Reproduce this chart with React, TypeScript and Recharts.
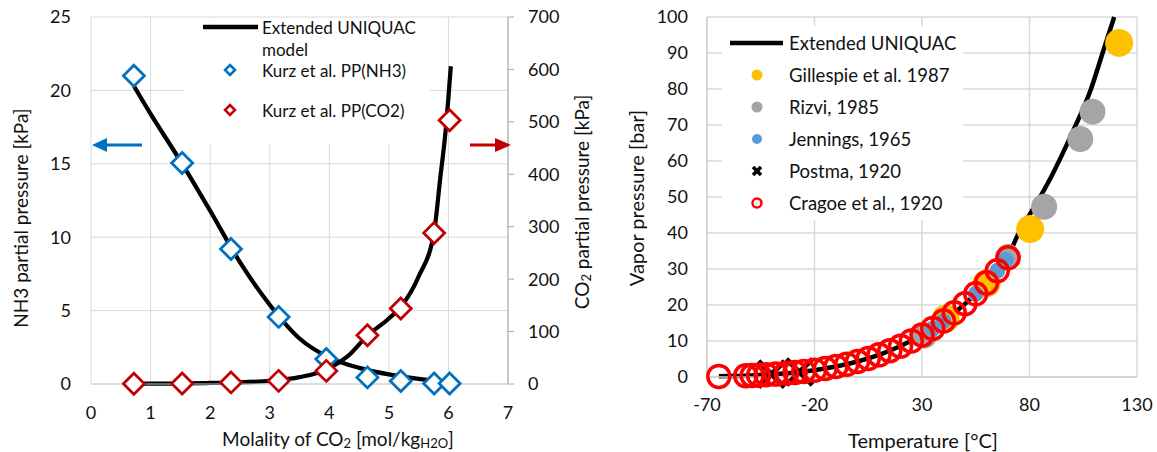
import React from 'react';
import { ComposedChart, Line, Scatter, XAxis, YAxis, CartesianGrid } from 'recharts';

// ---- left chart: partial pressures vs CO2 molality ----
const molalityTicks = [0, 1, 2, 3, 4, 5, 6, 7];
const nh3Ticks = [0, 5, 10, 15, 20, 25];
const co2Ticks = [0, 100, 200, 300, 400, 500, 600, 700];

const kurzMolality = [0.72, 1.53, 2.35, 3.15, 3.95, 4.64, 5.2, 5.76, 6.02];
const kurzNH3 = [21.0, 15.05, 9.2, 4.57, 1.7, 0.45, 0.2, 0.03, 0.03];
const kurzCO2 = [0.5, 1, 3, 6, 25, 93, 144, 288, 503];

const modelNH3Molality = [0.72, 1.0, 1.5, 2.0, 2.5, 3.0, 3.5, 4.0, 4.5, 5.0, 5.5, 6.05];
const modelNH3 = [20.3, 18.4, 15.2, 11.8, 8.3, 5.4, 3.1, 1.8, 1.1, 0.65, 0.35, 0.12];
const modelCO2Molality = [0.72, 1.5, 2.0, 2.5, 3.0, 3.5, 4.0, 4.3, 4.64, 5.0, 5.2, 5.5, 5.76, 5.86, 5.95, 6.04];
const modelCO2 = [0.5, 1, 2, 3, 6, 13, 30, 52, 92, 125, 147, 205, 290, 390, 480, 606];

// ---- right chart: NH3 vapor pressure ----
const tempTicks = [-70, -20, 30, 80, 130];
const vaporTicks = [0, 10, 20, 30, 40, 50, 60, 70, 80, 90, 100];

const modelT = [-64.5, -60, -50, -40, -30, -20, -10, 0, 10, 20, 30, 40, 50, 60, 70, 75, 80, 90, 100, 108.6, 114, 119.4];
const modelP = [0.2, 0.25, 0.45, 0.75, 1.2, 1.9, 2.9, 4.3, 6.15, 8.6, 11.7, 15.5, 20.3, 26.2, 33.5, 40, 45, 55.5, 68, 80, 90, 100];

const gillespieT = [41, 60, 80.3, 121.7];
const gillespieP = [16.2, 26, 41.1, 92.8];
const rizviT = [31, 70, 86.8, 103.6, 109.3];
const rizviP = [11.5, 33.3, 47.3, 66.1, 73.7];
const jenningsT = [35, 40, 55, 65, 69];
const jenningsP = [13.4, 15.5, 23.1, 29.5, 32.5];
const postmaT = [-40, -27];
const postmaP = [0.8, 1.4];
const cragoeT = [-64.5, -52, -49, -46, -42.5, -38, -33, -29, -25, -20, -15, -10, -5, 0, 5, 10, 15, 20, 25, 30, 35, 40, 45, 50, 55, 60, 65, 70];
const cragoeP = [0.17, 0.37, 0.43, 0.51, 0.63, 0.8, 1.04, 1.27, 1.52, 1.9, 2.36, 2.91, 3.55, 4.29, 5.16, 6.15, 7.28, 8.57, 10.03, 11.67, 13.5, 15.55, 17.82, 20.33, 23.1, 26.15, 29.5, 33.1];

const toPoints = (xs: number[], ys: number[]) => xs.map((x, i) => ({ x, y: ys[i] }));

const FONT = 'Lato, "Open Sans", sans-serif';
const tickStyle = { fontSize: 18, fill: '#111', fontFamily: FONT };

const Diamond = ({ cx, cy, color, r = 10.5, w = 2.75 }: any) => (
  <polygon
    points={`${cx},${cy - r} ${cx + r},${cy} ${cx},${cy + r} ${cx - r},${cy}`}
    fill="#fff"
    stroke={color}
    strokeWidth={w}
  />
);

const Dot = ({ cx, cy, r, fill, stroke, w }: any) => (
  <circle cx={cx} cy={cy} r={r} fill={fill || 'none'} stroke={stroke || 'none'} strokeWidth={w || 0} />
);

const Cross = ({ cx, cy, s = 10, w = 5 }: any) => (
  <g stroke="#000" strokeWidth={w}>
    <line x1={cx - s} y1={cy - s} x2={cx + s} y2={cy + s} />
    <line x1={cx - s} y1={cy + s} x2={cx + s} y2={cy - s} />
  </g>
);

function LeftChart() {
  return (
    <ComposedChart width={580} height={452} margin={{ top: 17, right: 0, bottom: 0, left: 0 }}>
      <CartesianGrid yAxisId="nh3" stroke="#d9d9d9" />
      <XAxis
        type="number"
        dataKey="x"
        domain={[0, 7]}
        ticks={molalityTicks}
        height={68}
        tickLine={false}
        tickSize={6}
        tickMargin={16}
        axisLine={{ stroke: '#d0d0d0' }}
        tick={tickStyle}
      />
      <YAxis
        yAxisId="nh3"
        type="number"
        dataKey="y"
        domain={[0, 25]}
        ticks={nh3Ticks}
        width={91}
        axisLine={false}
        tickLine={false}
        tickSize={6}
        tickMargin={14}
        tick={tickStyle}
      />
      <YAxis
        yAxisId="co2"
        orientation="right"
        type="number"
        dataKey="y"
        domain={[0, 700]}
        ticks={co2Ticks}
        width={72}
        axisLine={{ stroke: '#a6a6a6' }}
        tickLine={{ stroke: '#a6a6a6' }}
        tickSize={6}
        tickMargin={14}
        tick={tickStyle}
      />
      <Line yAxisId="nh3" data={toPoints(modelNH3Molality, modelNH3)} dataKey="y" type="monotone"
        stroke="#000" strokeWidth={4.25} dot={false} isAnimationActive={false} />
      <Line yAxisId="co2" data={toPoints(modelCO2Molality, modelCO2)} dataKey="y" type="monotone"
        stroke="#000" strokeWidth={4.25} dot={false} isAnimationActive={false} />
      <Scatter yAxisId="nh3" data={toPoints(kurzMolality, kurzNH3)} isAnimationActive={false}
        shape={(p: any) => <Diamond cx={p.cx} cy={p.cy} color="#0070c0" />} />
      <Scatter yAxisId="co2" data={toPoints(kurzMolality, kurzCO2)} isAnimationActive={false}
        shape={(p: any) => <Diamond cx={p.cx} cy={p.cy} color="#c00000" />} />
    </ComposedChart>
  );
}

function RightChart() {
  return (
    <ComposedChart width={577} height={452} margin={{ top: 17, right: 20, bottom: 0, left: 0 }}>
      <CartesianGrid stroke="#d9d9d9" strokeWidth={1.5} />
      <XAxis
        type="number"
        dataKey="x"
        domain={[-70, 130]}
        ticks={tempTicks}
        height={75}
        tickLine={false}
        tickSize={6}
        tickMargin={15}
        axisLine={{ stroke: '#d0d0d0', strokeWidth: 1.5 }}
        tick={tickStyle}
      />
      <YAxis
        type="number"
        dataKey="y"
        domain={[0, 100]}
        ticks={vaporTicks}
        width={127}
        axisLine={{ stroke: '#d0d0d0', strokeWidth: 1.5 }}
        tickLine={false}
        tickSize={6}
        tickMargin={13}
        tick={tickStyle}
      />
      <Line data={toPoints(modelT, modelP)} dataKey="y" type="monotone"
        stroke="#000" strokeWidth={4.5} dot={false} isAnimationActive={false} />
      <Scatter data={toPoints(gillespieT, gillespieP)} isAnimationActive={false}
        shape={(p: any) => <Dot cx={p.cx} cy={p.cy} r={14} fill="#ffc000" />} />
      <Scatter data={toPoints(rizviT, rizviP)} isAnimationActive={false}
        shape={(p: any) => <Dot cx={p.cx} cy={p.cy} r={13} fill="#a5a5a5" />} />
      <Scatter data={toPoints(jenningsT, jenningsP)} isAnimationActive={false}
        shape={(p: any) => <Dot cx={p.cx} cy={p.cy} r={8} fill="#5b9bd5" />} />
      <Scatter data={toPoints(postmaT, postmaP)} isAnimationActive={false}
        shape={(p: any) => <Cross cx={p.cx} cy={p.cy} s={13} w={5} />} />
      <Scatter data={toPoints(cragoeT, cragoeP)} isAnimationActive={false}
        shape={(p: any) => <Dot cx={p.cx} cy={p.cy} r={11} stroke="#ff0000" w={3.5} />} />
    </ComposedChart>
  );
}

// titles, legends and the axis arrows
function Overlay() {
  return (
    <svg width={1157} height={452} style={{ position: 'absolute', left: 0, top: 0, pointerEvents: 'none' }}
      fontFamily={FONT} fill="#111">
      {/* left legend */}
      <rect x={184} y={18} width={246} height={126} fill="#fff" />
      <line x1={203} y1={27} x2={258} y2={27} stroke="#000" strokeWidth={4.5} />
      <text x={262} y={27} fontSize={17} dominantBaseline="central">Extended UNIQUAC</text>
      <text x={262} y={49} fontSize={17} dominantBaseline="central">model</text>
      <Diamond cx={230} cy={70} r={5} w={2.5} color="#0070c0" />
      <text x={262} y={70} fontSize={17} dominantBaseline="central">Kurz et al. PP(NH3)</text>
      <Diamond cx={230} cy={110} r={5} w={2.5} color="#c00000" />
      <text x={262} y={110} fontSize={17} dominantBaseline="central">Kurz et al. PP(CO2)</text>

      {/* arrows pointing to the axes */}
      <line x1={142} y1={145} x2={104} y2={145} stroke="#0070c0" strokeWidth={3} />
      <polygon points="92,145 107,138 107,152" fill="#0070c0" />
      <line x1={470} y1={145} x2={497} y2={145} stroke="#c00000" strokeWidth={3} />
      <polygon points="511,145 495,138 495,152" fill="#c00000" />

      {/* left chart titles */}
      <text transform="translate(20,218) rotate(-90)" fontSize={19} textAnchor="middle" dominantBaseline="central">
        NH3 partial pressure [kPa]
      </text>
      <text transform="translate(581,202) rotate(-90)" fontSize={19} textAnchor="middle" dominantBaseline="central">
        CO<tspan fontSize={13} dy={5}>2</tspan><tspan dy={-5}> partial pressure [kPa]</tspan>
      </text>
      <text x={338} y={438} fontSize={19} textAnchor="middle" dominantBaseline="central">
        Molality of CO<tspan fontSize={13} dy={5}>2</tspan><tspan dy={-5}> [mol/kg</tspan>
        <tspan fontSize={13} dy={5}>H2O</tspan><tspan dy={-5}>]</tspan>
      </text>

      {/* right legend */}
      <rect x={722} y={26} width={241} height={194} fill="#fff" />
      <line x1={730} y1={43} x2={783} y2={43} stroke="#000" strokeWidth={4.5} />
      <text x={789} y={43} fontSize={18.5} dominantBaseline="central">Extended UNIQUAC</text>
      <circle cx={757} cy={75} r={5.5} fill="#ffc000" />
      <text x={789} y={75} fontSize={18.5} dominantBaseline="central">Gillespie et al. 1987</text>
      <circle cx={757} cy={107} r={5.5} fill="#a5a5a5" />
      <text x={789} y={107} fontSize={18.5} dominantBaseline="central">Rizvi, 1985</text>
      <circle cx={757} cy={139} r={5} fill="#5b9bd5" />
      <text x={789} y={139} fontSize={18.5} dominantBaseline="central">Jennings, 1965</text>
      <Cross cx={757} cy={171} s={4} w={3.5} />
      <text x={789} y={171} fontSize={18.5} dominantBaseline="central">Postma, 1920</text>
      <circle cx={757} cy={203} r={4.5} fill="#fff" stroke="#ff0000" strokeWidth={2.5} />
      <text x={789} y={203} fontSize={18.5} dominantBaseline="central">Cragoe et al., 1920</text>

      {/* right chart titles */}
      <text transform="translate(636,198) rotate(-90)" fontSize={20} textAnchor="middle" dominantBaseline="central">
        Vapor pressure [bar]
      </text>
      <text x={923} y={440} fontSize={20} textAnchor="middle" dominantBaseline="central">Temperature [°C]</text>
    </svg>
  );
}

export default function App() {
  return (
    <div style={{ position: 'absolute', left: 0, top: 0, width: 1157, height: 452, background: '#fff', fontFamily: FONT }}>
      <div style={{ position: 'absolute', left: 0, top: 0 }}>
        <LeftChart />
      </div>
      <div style={{ position: 'absolute', left: 580, top: 0 }}>
        <RightChart />
      </div>
      <Overlay />
    </div>
  );
}
